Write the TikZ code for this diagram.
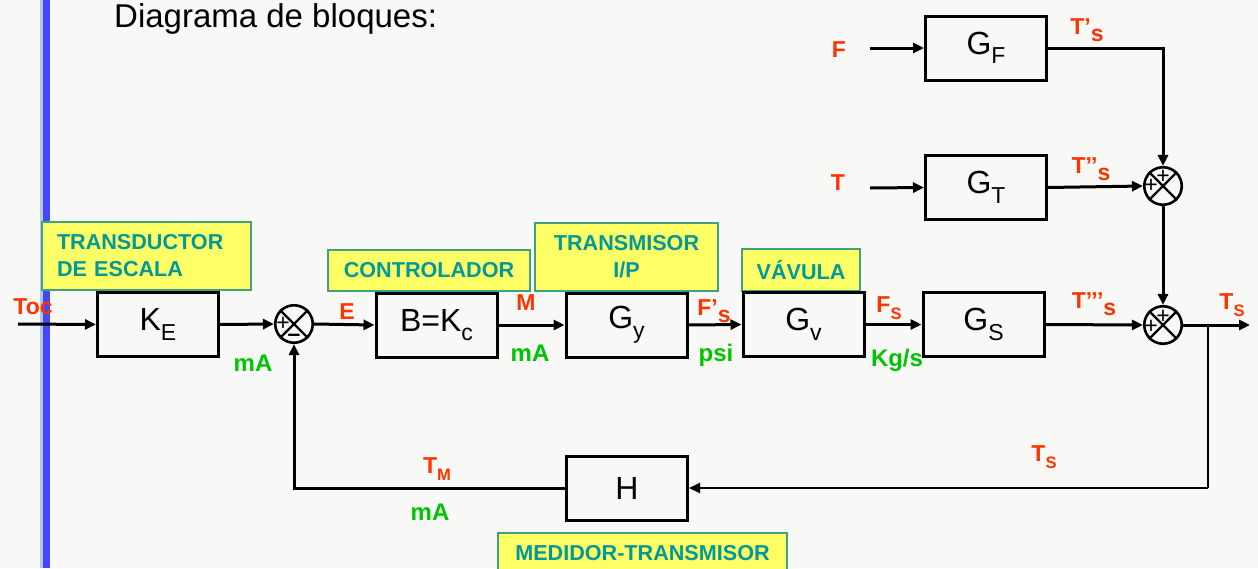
\documentclass[tikz,border=0pt]{standalone}
\usepackage{fontspec}
\setmainfont{Liberation Sans}
\usepackage{graphicx}
\usetikzlibrary{arrows.meta,calc}
\definecolor{bg}{HTML}{F8F8F6}
\definecolor{lblred}{HTML}{FF3300}
\definecolor{lblgreen}{HTML}{00C400}
\definecolor{tealtxt}{HTML}{009999}
\definecolor{yel}{HTML}{FFFF66}
\definecolor{yelborder}{HTML}{40A080}
\definecolor{barblue}{HTML}{4646FF}
\definecolor{barlight}{HTML}{A8CCF0}
\newcommand\subx[1]{\raisebox{-0.3em}{\scalebox{0.72}{#1}}}
\newcommand\subl[1]{\raisebox{-0.3em}{#1}}
\begin{document}
\begin{tikzpicture}[x=1pt,y=-1pt,
  blk/.style={draw=black,line width=3pt,minimum width=121pt,minimum height=64pt,inner sep=0pt,
    font=\fontsize{32}{36}\selectfont},
  sig/.style={text=lblred,inner sep=0pt,font=\bfseries\fontsize{23}{26}\selectfont},
  unit/.style={text=lblgreen,inner sep=0pt,font=\bfseries\fontsize{24}{26}\selectfont},
  tag/.style={draw=yelborder,line width=1.2pt,fill=yel,text=tealtxt,inner sep=0pt,
    font=\bfseries\fontsize{21.6}{27}\selectfont},
  sum/.style={circle,draw=black,line width=2.6pt,minimum size=37.5pt,inner sep=0pt},
  sgn/.style={inner sep=0pt,font=\fontsize{23}{23}\selectfont},
  conn/.style={line width=3pt,-{Triangle[length=11pt,width=10pt]}},
  thin/.style={line width=2pt}]
\path[use as bounding box,clip] (0,0) rectangle (1258,568);
\fill[bg] (0,0) rectangle (1258,568);
\fill[barlight] (40,0) rectangle (43,568);
\fill[barblue] (43,0) rectangle (50,568);

\node[anchor=base west,inner sep=0pt,font=\fontsize{33}{36}\selectfont] (title) at (114,27) {Diagrama de bloques:};

% yellow tags
\node[tag,minimum height=68pt,text width=179pt,inner xsep=15pt,align=left] (tagte) at (146.5,256) {TRANSDUCTOR\\DE ESCALA};
\node[tag,minimum width=202pt,minimum height=41pt] (tagc) at (429,270.5) {CONTROLADOR};
\node[tag,minimum width=183pt,minimum height=68pt,align=center] (tagtp) at (626.5,257) {TRANSMISOR\\I/P};
\node[tag,minimum width=118pt,minimum height=42pt] (tagv) at (801,270) {VÁVULA};
\node[tag,minimum width=289pt,minimum height=40pt] (tagm) at (642.5,553) {MEDIDOR-TRANSMISOR};

% blocks
\node[blk] (ke) at (158,324.5) {K\subx{E}};
\node[blk] (ctl) at (436.5,325) {B=K\subx{c}};
\node[blk] (gy) at (626.5,325) {G\subx{y}};
\node[blk] (gv) at (803.5,324.5) {G\subx{v}};
\node[blk] (gs) at (983.5,324.5) {G\subx{S}};
\node[blk] (gf) at (986,48) {G\subx{F}};
\node[blk] (gt) at (986,187.5) {G\subx{T}};
\node[blk] (h) at (627,488) {H};

% summing junctions
\node[sum] (s1) at (294,324) {};
\node[sum] (s2) at (1163,186) {};
\node[sum] (s3) at (1163,325) {};
\foreach \s in {s1,s2,s3}{
  \draw[line width=2.2pt] (\s.45) -- (\s.225);
  \draw[line width=2.2pt] (\s.135) -- (\s.315);
}
\node[sgn] (s1p) at ($(s1)+(-11,0)$) {+};
\node[sgn] (s1m) at ($(s1)+(0,14)$) {\textbf{–}};
\node[sgn] (s2t) at ($(s2)+(0,-9)$) {+};
\node[sgn] (s2l) at ($(s2)+(-12,0)$) {+};
\node[sgn] (s3t) at ($(s3)+(0,-8)$) {+};
\node[sgn] (s3l) at ($(s3)+(-12,2)$) {+};

% free ends
\coordinate (toc) at (18,324);
\coordinate (fin) at (870,48);
\coordinate (tin) at (870,188);
\coordinate (out) at (1250,325);
\coordinate (tap) at (1208,325);
\coordinate (tapd) at (1208,488);

% connectors
\draw[conn] (toc) -- (ke.west);
\draw[conn] (ke.east) -- (s1.west);
\draw[conn] (s1.east) -- (ctl.west);
\draw[conn] (ctl.east) -- (gy.west);
\draw[conn] (gy.east) -- (gv.west);
\draw[conn] (gv.east) -- (gs.west);
\draw[conn] (gs.east) -- (s3.west);
\draw[conn] (s3.east) -- (out);
\draw[conn] (fin) -- (gf.west);
\draw[conn] (tin) -- (gt.west);
\draw[conn] (gf.east) -| (s2.north);
\draw[conn] (gt.east) -- (s2.west);
\draw[conn] (s2.south) -- (s3.north);
\draw[thin] (tap) -- (tapd);
\draw[thin,-{Triangle[length=11pt,width=10pt]}] (tapd) -- (h.east);
\draw[conn] (h.west) -| (s1.south);

% signal labels
\node[sig] (ltoc) at (33,307) {Toc};
\node[sig] (le) at (347,312) {E};
\node[sig] (lm) at (526,303) {M};
\node[sig] (lfp) at (714,311) {F’\subl{s}};
\node[sig] (lfs) at (889,308) {F\subx{S}};
\node[sig] (ltppp) at (1094,304) {T’’’\subl{s}};
\node[sig] (lts) at (1232,305) {T\subx{S}};
\node[sig] (lf) at (839,50) {F};
\node[sig] (lt) at (838,183) {T};
\node[sig] (ltp) at (1087,30) {T’\subl{s}};
\node[sig] (ltpp) at (1091,169) {T’’\subl{s}};
\node[sig] (ltm) at (437,469) {T\subx{M}};
\node[sig] (lts2) at (1044,457) {T\subx{S}};

% unit labels
\node[unit] (u1) at (253,363) {mA};
\node[unit] (u2) at (530,353) {mA};
\node[unit] (u3) at (716,355) {psi};
\node[unit] (u4) at (897,360) {Kg/s};
\node[unit] (u5) at (430,512) {mA};
\end{tikzpicture}
\end{document}
